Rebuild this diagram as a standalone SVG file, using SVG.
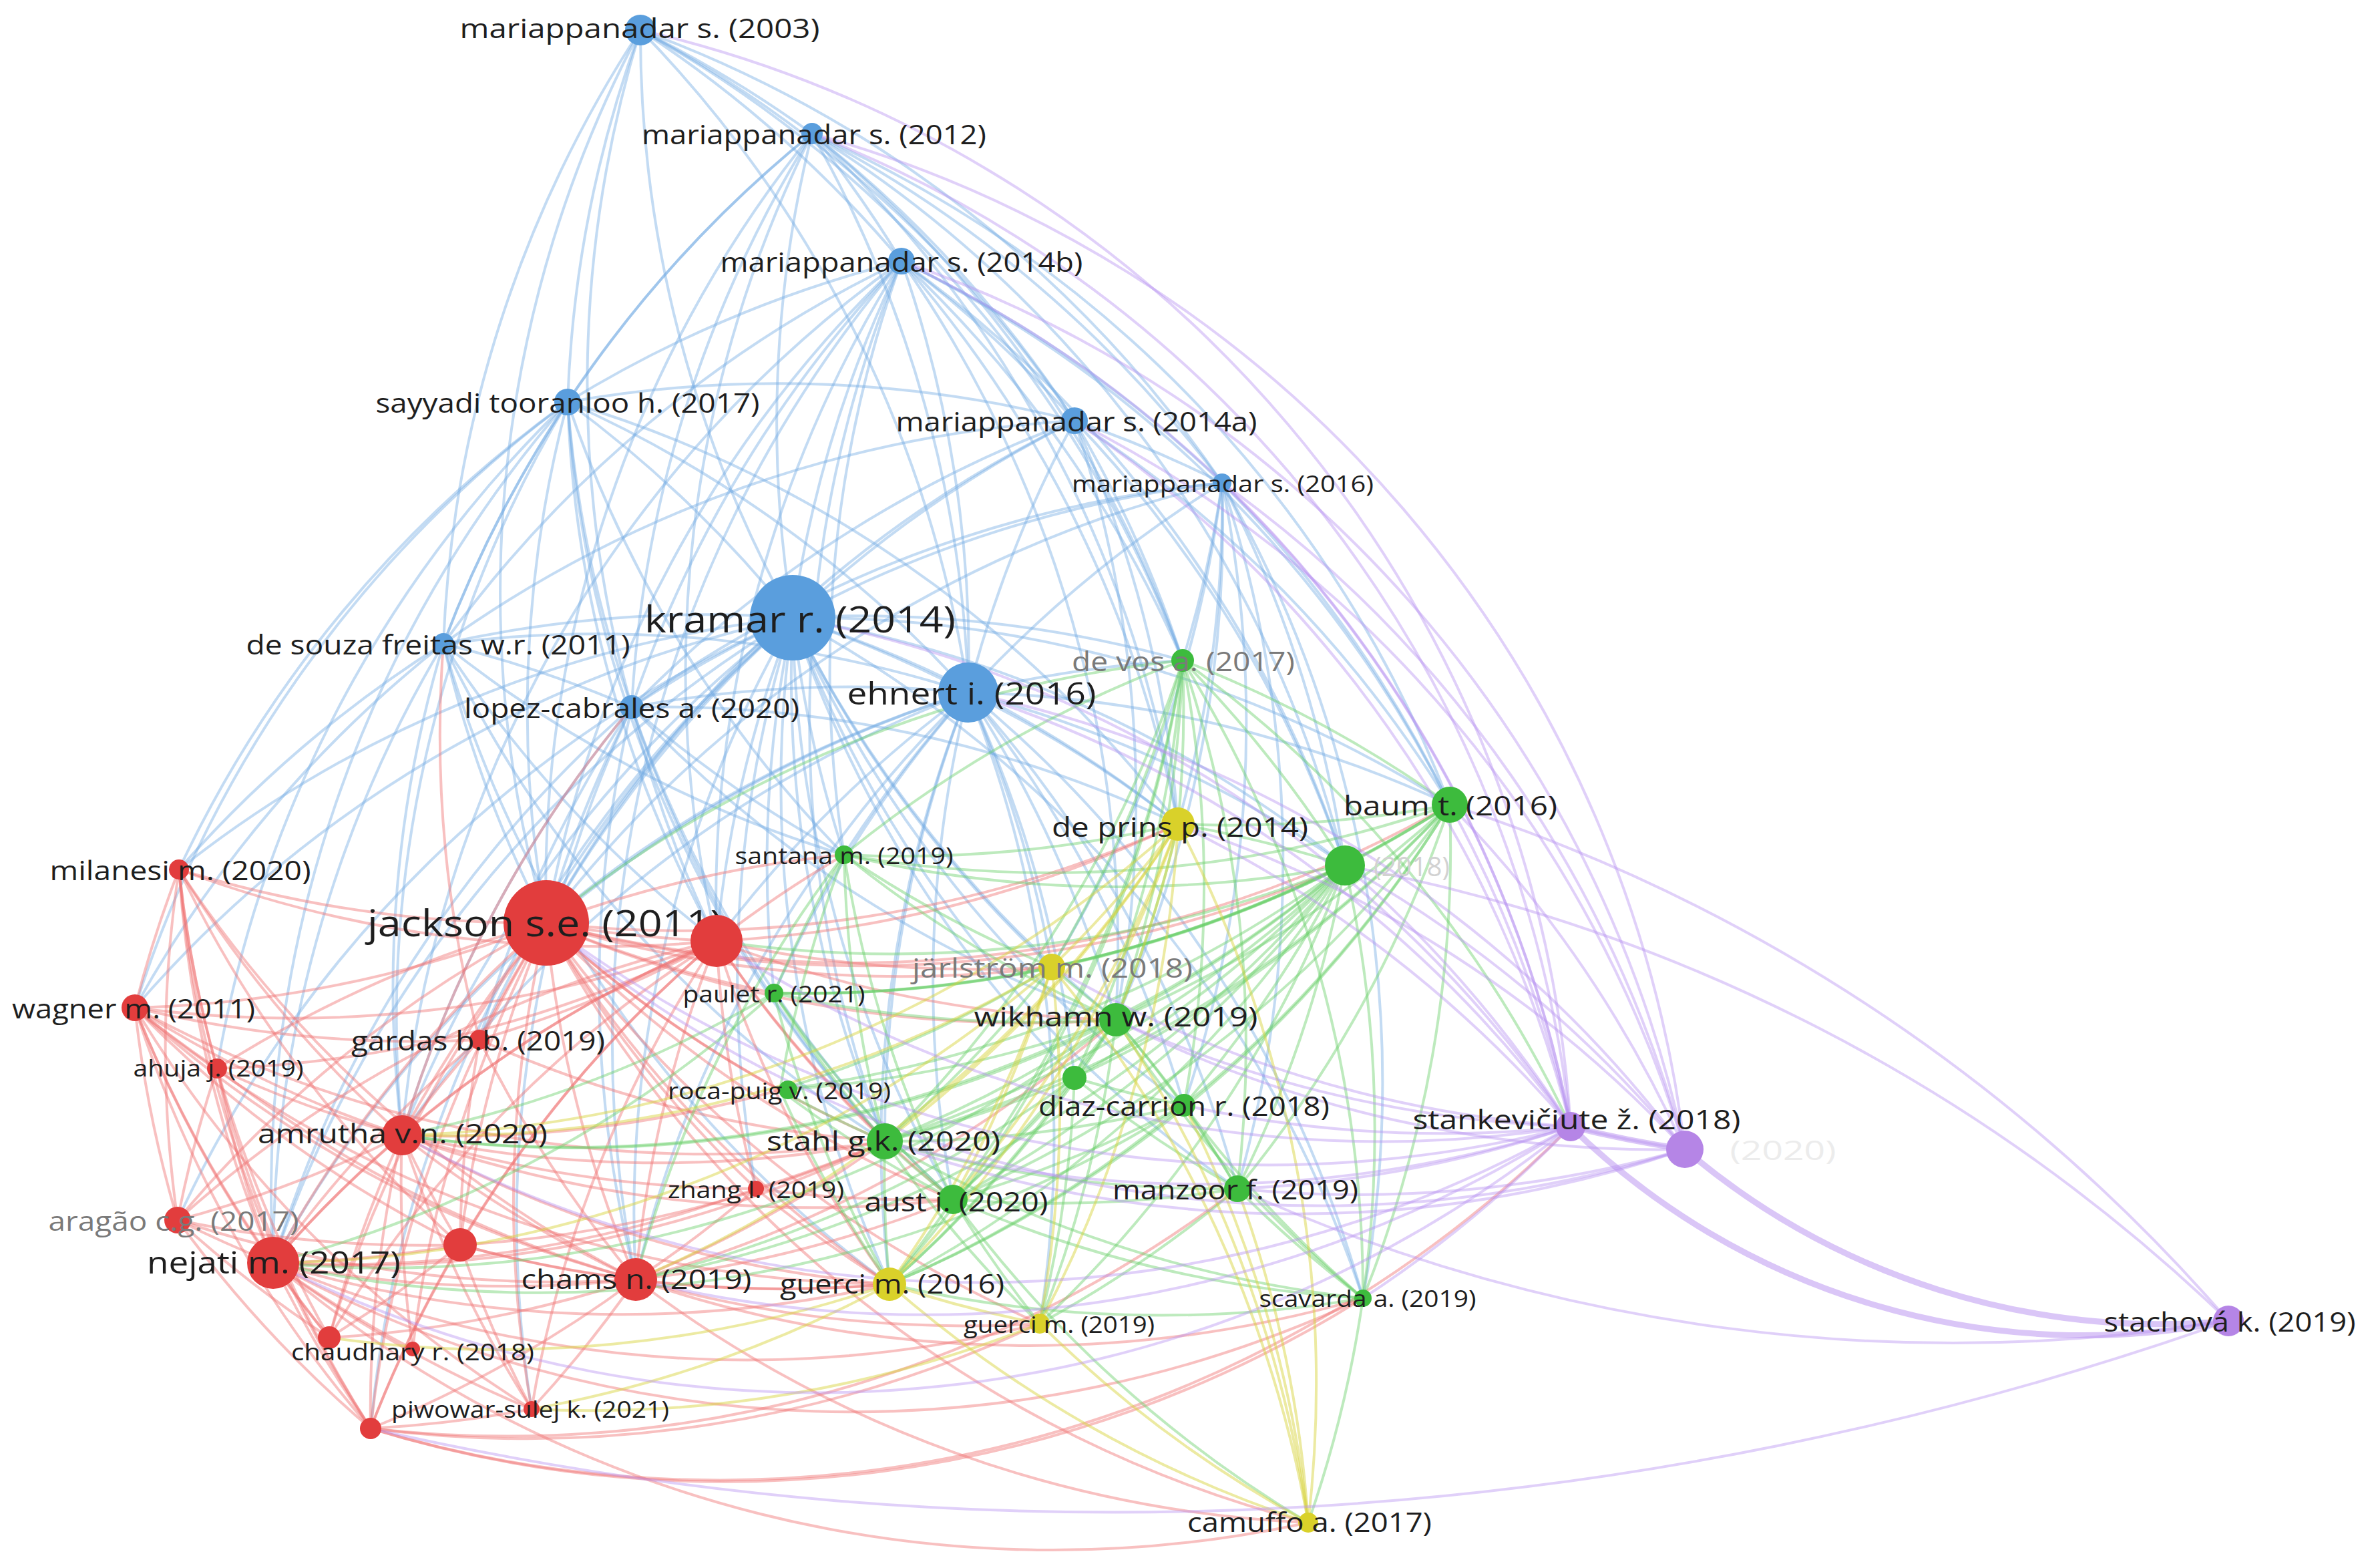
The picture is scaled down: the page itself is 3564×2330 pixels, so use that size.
<svg xmlns="http://www.w3.org/2000/svg" width="3564" height="2330" viewBox="0 0 3564 2330">
<style>
.c path{fill:none;stroke-linecap:round;stroke-width:4}
.cb{stroke:#6fa9e3;stroke-opacity:.42}
.cr{stroke:#ef6f6f;stroke-opacity:.44}
.cg{stroke:#68cf68;stroke-opacity:.44}
.cy{stroke:#d8d33c;stroke-opacity:.48}
.cp{stroke:#b58ef0;stroke-opacity:.42}
.cpt path{stroke-width:9;stroke-opacity:.5}
.nb circle{fill:#5a9edd}
.ng circle{fill:#3dbb3d}
.ny circle{fill:#d9d12a}
.nr circle{fill:#e23d3d}
.np circle{fill:#b585e6}
text{font-family:"Open Sans","Liberation Sans",sans-serif;text-anchor:middle;dominant-baseline:central;fill:#1e1e1e}
.f55{font-size:55px}.f46{font-size:46px}.f41{font-size:41px}.f35{font-size:35px}
.fa{fill:#7a7a7a}.fb{fill:#d2d2d2}.fc{fill:#ececec}
</style>
<rect width="3564" height="2330" fill="#ffffff"/>
<g id="connectors" class="c">
<g class="cb">
<path d="M959 45A1800 1800 0 0 1 1216 200"/><path d="M959 45A1800 1800 0 0 1 1350 391"/><path d="M959 45A1800 1800 0 0 0 850 602"/><path d="M959 45A1800 1800 0 0 1 1609 630"/><path d="M959 45A1800 1800 0 0 1 1830 723"/><path d="M959 45A1800 1800 0 0 0 1187 925"/><path d="M959 45A1800 1800 0 0 0 664 964"/><path d="M959 45A1800 1800 0 0 0 946 1059"/><path d="M959 45A1800 1800 0 0 1 1450 1037"/><path d="M959 45A1800 1800 0 0 1 1771 989"/><path d="M959 45A1800 1800 0 0 0 818 1382"/>
<path d="M1216 200A1800 1800 0 0 1 1350 391"/><path d="M1216 200A1800 1800 0 0 0 850 602"/><path d="M1216 200A1800 1800 0 0 1 1609 630"/><path d="M1216 200A1800 1800 0 0 1 1830 723"/><path d="M1216 200A1800 1800 0 0 0 1187 925"/><path d="M1216 200A1800 1800 0 0 0 664 964"/><path d="M1216 200A1800 1800 0 0 0 946 1059"/><path d="M1216 200A1800 1800 0 0 1 1450 1037"/><path d="M1216 200A1800 1800 0 0 1 1771 989"/><path d="M1216 200A1800 1800 0 0 1 2171 1205"/><path d="M1216 200A1800 1800 0 0 1 2014 1296"/><path d="M1216 200A1800 1800 0 0 1 1764 1234"/><path d="M1216 200A1800 1800 0 0 0 818 1382"/><path d="M1216 200A1800 1800 0 0 0 1073 1409"/>
<path d="M1350 391A1800 1800 0 0 0 850 602"/><path d="M1350 391A1800 1800 0 0 1 1609 630"/><path d="M1350 391A1800 1800 0 0 1 1830 723"/><path d="M1350 391A1800 1800 0 0 0 1187 925"/><path d="M1350 391A1800 1800 0 0 0 664 964"/><path d="M1350 391A1800 1800 0 0 0 946 1059"/><path d="M1350 391A1800 1800 0 0 1 1450 1037"/><path d="M1350 391A1800 1800 0 0 1 1771 989"/><path d="M1350 391A1800 1800 0 0 1 2171 1205"/><path d="M1350 391A1800 1800 0 0 1 2014 1296"/><path d="M1350 391A1800 1800 0 0 1 1764 1234"/><path d="M1350 391A1800 1800 0 0 0 818 1382"/><path d="M1350 391A1800 1800 0 0 0 1073 1409"/><path d="M1350 391A1800 1800 0 0 0 1264 1280"/><path d="M1350 391A1800 1800 0 0 1 1671 1527"/><path d="M1350 391A1800 1800 0 0 0 602 1700"/><path d="M1350 391A1800 1800 0 0 0 1325 1709"/><path d="M1350 391A1800 1800 0 0 0 952 1916"/>
<path d="M850 602A1800 1800 0 0 1 1609 630"/><path d="M850 602A1800 1800 0 0 1 1187 925"/><path d="M850 602A1800 1800 0 0 0 664 964"/><path d="M850 602A1800 1800 0 0 0 946 1059"/><path d="M850 602A1800 1800 0 0 1 1450 1037"/><path d="M850 602A1800 1800 0 0 0 818 1382"/><path d="M850 602A1800 1800 0 0 0 1073 1409"/><path d="M850 602A1800 1800 0 0 0 268 1302"/><path d="M850 602A1800 1800 0 0 0 202 1509"/><path d="M850 602A1800 1800 0 0 0 602 1700"/><path d="M850 602A1800 1800 0 0 0 409 1891"/><path d="M850 602A1800 1800 0 0 0 1264 1280"/><path d="M850 602A1800 1800 0 0 1 1764 1234"/><path d="M850 602A1800 1800 0 0 0 1325 1709"/><path d="M850 602A1800 1800 0 0 0 325 1600"/>
<path d="M1609 630A1800 1800 0 0 1 1830 723"/><path d="M1609 630A1800 1800 0 0 0 1187 925"/><path d="M1609 630A1800 1800 0 0 0 664 964"/><path d="M1609 630A1800 1800 0 0 0 946 1059"/><path d="M1609 630A1800 1800 0 0 0 1450 1037"/><path d="M1609 630A1800 1800 0 0 1 1771 989"/><path d="M1609 630A1800 1800 0 0 1 2171 1205"/><path d="M1609 630A1800 1800 0 0 1 2014 1296"/><path d="M1609 630A1800 1800 0 0 1 1764 1234"/><path d="M1609 630A1800 1800 0 0 0 818 1382"/><path d="M1609 630A1800 1800 0 0 1 1671 1527"/>
<path d="M1830 723A1800 1800 0 0 0 1187 925"/><path d="M1830 723A1800 1800 0 0 0 946 1059"/><path d="M1830 723A1800 1800 0 0 0 1450 1037"/><path d="M1830 723A1800 1800 0 0 1 1771 989"/><path d="M1830 723A1800 1800 0 0 1 2171 1205"/><path d="M1830 723A1800 1800 0 0 1 2014 1296"/><path d="M1830 723A1800 1800 0 0 1 1764 1234"/><path d="M1830 723A1800 1800 0 0 1 1671 1527"/><path d="M1830 723A1800 1800 0 0 1 1773 1655"/><path d="M1830 723A1800 1800 0 0 1 1853 1780"/><path d="M1830 723A1800 1800 0 0 0 818 1382"/><path d="M1830 723A1800 1800 0 0 1 1575 1448"/><path d="M1830 723A1800 1800 0 0 1 2041 1944"/>
<path d="M1187 925A1800 1800 0 0 0 664 964"/><path d="M1187 925A1800 1800 0 0 0 946 1059"/><path d="M1187 925A1800 1800 0 0 1 1450 1037"/><path d="M1187 925A1800 1800 0 0 1 1771 989"/><path d="M1187 925A1800 1800 0 0 1 2171 1205"/><path d="M1187 925A1800 1800 0 0 1 2014 1296"/><path d="M1187 925A1800 1800 0 0 1 1764 1234"/><path d="M1187 925A1800 1800 0 0 0 1575 1448"/><path d="M1187 925A1800 1800 0 0 0 1264 1280"/><path d="M1187 925A1800 1800 0 0 0 1159 1487"/><path d="M1187 925A1800 1800 0 0 0 1671 1527"/><path d="M1187 925A1800 1800 0 0 0 1609 1614"/><path d="M1187 925A1800 1800 0 0 0 1773 1655"/><path d="M1187 925A1800 1800 0 0 0 1325 1709"/><path d="M1187 925A1800 1800 0 0 0 1427 1796"/><path d="M1187 925A1800 1800 0 0 0 1853 1780"/><path d="M1187 925A1800 1800 0 0 1 2041 1944"/><path d="M1187 925A1800 1800 0 0 0 818 1382"/><path d="M1187 925A1800 1800 0 0 0 1073 1409"/><path d="M1187 925A1800 1800 0 0 0 268 1302"/><path d="M1187 925A1800 1800 0 0 0 202 1509"/><path d="M1187 925A1800 1800 0 0 0 718 1557"/><path d="M1187 925A1800 1800 0 0 0 602 1700"/><path d="M1187 925A1800 1800 0 0 0 409 1891"/><path d="M1187 925A1800 1800 0 0 0 952 1916"/><path d="M1187 925A1800 1800 0 0 0 1132 1780"/><path d="M1187 925A1800 1800 0 0 0 1332 1923"/><path d="M1187 925A1800 1800 0 0 0 555 2139"/><path d="M1187 925A1800 1800 0 0 0 266 1827"/>
<path d="M664 964A1800 1800 0 0 1 946 1059"/><path d="M664 964A1800 1800 0 0 1 1450 1037"/><path d="M664 964A1800 1800 0 0 0 818 1382"/><path d="M664 964A1800 1800 0 0 0 1073 1409"/><path d="M664 964A1800 1800 0 0 0 268 1302"/><path d="M664 964A1800 1800 0 0 0 202 1509"/><path d="M664 964A1800 1800 0 0 0 602 1700"/><path d="M664 964A1800 1800 0 0 0 409 1891"/><path d="M664 964A1800 1800 0 0 0 1325 1709"/><path d="M664 964A1800 1800 0 0 0 1332 1923"/><path d="M664 964A1800 1800 0 0 0 1264 1280"/>
<path d="M946 1059A1800 1800 0 0 1 1450 1037"/><path d="M946 1059A1800 1800 0 0 0 818 1382"/><path d="M946 1059A1800 1800 0 0 0 1073 1409"/><path d="M946 1059A1800 1800 0 0 0 718 1557"/><path d="M946 1059A1800 1800 0 0 0 602 1700"/><path d="M946 1059A1800 1800 0 0 0 409 1891"/><path d="M946 1059A1800 1800 0 0 0 952 1916"/><path d="M946 1059A1800 1800 0 0 0 1264 1280"/><path d="M946 1059A1800 1800 0 0 0 1325 1709"/><path d="M946 1059A1800 1800 0 0 0 1427 1796"/><path d="M946 1059A1800 1800 0 0 1 1764 1234"/><path d="M946 1059A1800 1800 0 0 0 796 2110"/><path d="M946 1059A1800 1800 0 0 0 1671 1527"/>
<path d="M1450 1037A1800 1800 0 0 1 1771 989"/><path d="M1450 1037A1800 1800 0 0 1 2171 1205"/><path d="M1450 1037A1800 1800 0 0 1 2014 1296"/><path d="M1450 1037A1800 1800 0 0 1 1764 1234"/><path d="M1450 1037A1800 1800 0 0 1 1575 1448"/><path d="M1450 1037A1800 1800 0 0 0 1264 1280"/><path d="M1450 1037A1800 1800 0 0 0 1159 1487"/><path d="M1450 1037A1800 1800 0 0 1 1671 1527"/><path d="M1450 1037A1800 1800 0 0 1 1609 1614"/><path d="M1450 1037A1800 1800 0 0 1 1773 1655"/><path d="M1450 1037A1800 1800 0 0 0 1325 1709"/><path d="M1450 1037A1800 1800 0 0 0 1427 1796"/><path d="M1450 1037A1800 1800 0 0 1 1853 1780"/><path d="M1450 1037A1800 1800 0 0 0 1332 1923"/><path d="M1450 1037A1800 1800 0 0 1 1557 1982"/><path d="M1450 1037A1800 1800 0 0 0 818 1382"/><path d="M1450 1037A1800 1800 0 0 0 1073 1409"/><path d="M1450 1037A1800 1800 0 0 0 602 1700"/><path d="M1450 1037A1800 1800 0 0 0 409 1891"/><path d="M1450 1037A1800 1800 0 0 0 952 1916"/><path d="M1450 1037A1800 1800 0 0 1 2041 1944"/>
</g>
<g class="cr">
<path d="M818 1382A1800 1800 0 0 0 1073 1409"/><path d="M818 1382A1800 1800 0 0 1 268 1302"/><path d="M818 1382A1800 1800 0 0 1 202 1509"/><path d="M818 1382A1800 1800 0 0 0 325 1600"/><path d="M818 1382A1800 1800 0 0 0 718 1557"/><path d="M818 1382A1800 1800 0 0 0 602 1700"/><path d="M818 1382A1800 1800 0 0 0 266 1827"/><path d="M818 1382A1800 1800 0 0 0 409 1891"/><path d="M818 1382A1800 1800 0 0 0 689 1864"/><path d="M818 1382A1800 1800 0 0 0 952 1916"/><path d="M818 1382A1800 1800 0 0 0 1132 1780"/><path d="M818 1382A1800 1800 0 0 0 493 2003"/><path d="M818 1382A1800 1800 0 0 0 618 2020"/><path d="M818 1382A1800 1800 0 0 0 796 2110"/><path d="M818 1382A1800 1800 0 0 0 555 2139"/><path d="M818 1382A1800 1800 0 0 1 1264 1280"/><path d="M818 1382A1800 1800 0 0 0 1159 1487"/><path d="M818 1382A1800 1800 0 0 0 1671 1527"/><path d="M818 1382A1800 1800 0 0 0 1325 1709"/><path d="M818 1382A1800 1800 0 0 0 1427 1796"/><path d="M818 1382A1800 1800 0 0 0 1168 1632"/><path d="M818 1382A1800 1800 0 0 0 1764 1234"/><path d="M818 1382A1800 1800 0 0 0 1575 1448"/><path d="M818 1382A1800 1800 0 0 0 1332 1923"/><path d="M818 1382A1800 1800 0 0 0 1557 1982"/><path d="M818 1382A1800 1800 0 0 0 2171 1205"/><path d="M818 1382A1800 1800 0 0 0 2014 1296"/><path d="M818 1382A1800 1800 0 0 0 1959 2280"/>
<path d="M1073 1409A1800 1800 0 0 1 268 1302"/><path d="M1073 1409A1800 1800 0 0 1 202 1509"/><path d="M1073 1409A1800 1800 0 0 1 325 1600"/><path d="M1073 1409A1800 1800 0 0 1 718 1557"/><path d="M1073 1409A1800 1800 0 0 0 602 1700"/><path d="M1073 1409A1800 1800 0 0 0 266 1827"/><path d="M1073 1409A1800 1800 0 0 0 409 1891"/><path d="M1073 1409A1800 1800 0 0 0 689 1864"/><path d="M1073 1409A1800 1800 0 0 0 952 1916"/><path d="M1073 1409A1800 1800 0 0 0 1132 1780"/><path d="M1073 1409A1800 1800 0 0 0 493 2003"/><path d="M1073 1409A1800 1800 0 0 0 796 2110"/><path d="M1073 1409A1800 1800 0 0 0 555 2139"/><path d="M1073 1409A1800 1800 0 0 0 1671 1527"/><path d="M1073 1409A1800 1800 0 0 0 1325 1709"/><path d="M1073 1409A1800 1800 0 0 0 1427 1796"/><path d="M1073 1409A1800 1800 0 0 0 1332 1923"/><path d="M1073 1409A1800 1800 0 0 0 1764 1234"/><path d="M1073 1409A1800 1800 0 0 1 1264 1280"/><path d="M1073 1409A1800 1800 0 0 0 1575 1448"/>
<path d="M268 1302A1800 1800 0 0 0 202 1509"/><path d="M268 1302A1800 1800 0 0 0 325 1600"/><path d="M268 1302A1800 1800 0 0 0 602 1700"/><path d="M268 1302A1800 1800 0 0 0 266 1827"/><path d="M268 1302A1800 1800 0 0 0 409 1891"/><path d="M268 1302A1800 1800 0 0 0 689 1864"/><path d="M268 1302A1800 1800 0 0 0 952 1916"/><path d="M268 1302A1800 1800 0 0 0 555 2139"/><path d="M268 1302A1800 1800 0 0 0 493 2003"/>
<path d="M202 1509A1800 1800 0 0 0 325 1600"/><path d="M202 1509A1800 1800 0 0 0 718 1557"/><path d="M202 1509A1800 1800 0 0 0 602 1700"/><path d="M202 1509A1800 1800 0 0 0 266 1827"/><path d="M202 1509A1800 1800 0 0 0 409 1891"/><path d="M202 1509A1800 1800 0 0 0 689 1864"/><path d="M202 1509A1800 1800 0 0 0 952 1916"/><path d="M202 1509A1800 1800 0 0 0 493 2003"/><path d="M202 1509A1800 1800 0 0 0 796 2110"/><path d="M202 1509A1800 1800 0 0 0 555 2139"/><path d="M202 1509A1800 1800 0 0 0 1325 1709"/><path d="M202 1509A1800 1800 0 0 0 1332 1923"/>
<path d="M325 1600A1800 1800 0 0 0 602 1700"/><path d="M325 1600A1800 1800 0 0 0 266 1827"/><path d="M325 1600A1800 1800 0 0 0 409 1891"/><path d="M325 1600A1800 1800 0 0 0 952 1916"/><path d="M325 1600A1800 1800 0 0 0 555 2139"/>
<path d="M718 1557A1800 1800 0 0 0 602 1700"/><path d="M718 1557A1800 1800 0 0 0 409 1891"/><path d="M718 1557A1800 1800 0 0 0 952 1916"/><path d="M718 1557A1800 1800 0 0 0 689 1864"/><path d="M718 1557A1800 1800 0 0 0 1325 1709"/><path d="M718 1557A1800 1800 0 0 1 664 964"/>
<path d="M602 1700A1800 1800 0 0 1 266 1827"/><path d="M602 1700A1800 1800 0 0 0 409 1891"/><path d="M602 1700A1800 1800 0 0 0 689 1864"/><path d="M602 1700A1800 1800 0 0 0 952 1916"/><path d="M602 1700A1800 1800 0 0 0 1132 1780"/><path d="M602 1700A1800 1800 0 0 0 493 2003"/><path d="M602 1700A1800 1800 0 0 0 618 2020"/><path d="M602 1700A1800 1800 0 0 0 796 2110"/><path d="M602 1700A1800 1800 0 0 0 555 2139"/><path d="M602 1700A1800 1800 0 0 0 1325 1709"/><path d="M602 1700A1800 1800 0 0 0 1427 1796"/><path d="M602 1700A1800 1800 0 0 0 1332 1923"/><path d="M602 1700A1800 1800 0 0 0 1168 1632"/><path d="M602 1700A1800 1800 0 0 1 946 1059"/>
<path d="M266 1827A1800 1800 0 0 0 409 1891"/><path d="M266 1827A1800 1800 0 0 0 689 1864"/><path d="M266 1827A1800 1800 0 0 0 952 1916"/><path d="M266 1827A1800 1800 0 0 0 493 2003"/><path d="M266 1827A1800 1800 0 0 0 555 2139"/>
<path d="M409 1891A1800 1800 0 0 0 689 1864"/><path d="M409 1891A1800 1800 0 0 0 952 1916"/><path d="M409 1891A1800 1800 0 0 0 1132 1780"/><path d="M409 1891A1800 1800 0 0 0 493 2003"/><path d="M409 1891A1800 1800 0 0 0 618 2020"/><path d="M409 1891A1800 1800 0 0 0 796 2110"/><path d="M409 1891A1800 1800 0 0 0 555 2139"/><path d="M409 1891A1800 1800 0 0 0 1325 1709"/><path d="M409 1891A1800 1800 0 0 0 1332 1923"/><path d="M409 1891A1800 1800 0 0 0 1557 1982"/><path d="M409 1891A1800 1800 0 0 0 1959 2280"/><path d="M409 1891A1800 1800 0 0 0 2041 1944"/>
<path d="M689 1864A1800 1800 0 0 0 952 1916"/><path d="M689 1864A1800 1800 0 0 1 493 2003"/><path d="M689 1864A1800 1800 0 0 0 796 2110"/><path d="M689 1864A1800 1800 0 0 0 555 2139"/><path d="M689 1864A1800 1800 0 0 0 1325 1709"/><path d="M689 1864A1800 1800 0 0 0 1332 1923"/>
<path d="M952 1916A1800 1800 0 0 0 1132 1780"/><path d="M952 1916A1800 1800 0 0 1 493 2003"/><path d="M952 1916A1800 1800 0 0 1 796 2110"/><path d="M952 1916A1800 1800 0 0 1 555 2139"/><path d="M952 1916A1800 1800 0 0 0 1325 1709"/><path d="M952 1916A1800 1800 0 0 0 1427 1796"/><path d="M952 1916A1800 1800 0 0 0 1332 1923"/><path d="M952 1916A1800 1800 0 0 0 1557 1982"/><path d="M952 1916A1800 1800 0 0 0 1671 1527"/><path d="M952 1916A1800 1800 0 0 0 1959 2280"/><path d="M952 1916A1800 1800 0 0 0 2041 1944"/>
<path d="M1132 1780A1800 1800 0 0 0 1325 1709"/><path d="M1132 1780A1800 1800 0 0 0 1332 1923"/><path d="M1132 1780A1800 1800 0 0 0 1427 1796"/>
<path d="M555 2139A1800 1800 0 0 0 796 2110"/><path d="M555 2139A1800 1800 0 0 0 2041 1944"/><path d="M555 2139A1800 1800 0 0 0 1557 1982"/><path d="M555 2139A1800 1800 0 0 0 2352 1687"/><path d="M555 2139A1800 1800 0 0 0 1853 1780"/>
</g>
<g class="cg">
<path d="M1771 989A1800 1800 0 0 1 2171 1205"/><path d="M1771 989A1800 1800 0 0 1 2014 1296"/><path d="M1771 989A1800 1800 0 0 1 1671 1527"/><path d="M1771 989A1800 1800 0 0 1 1609 1614"/><path d="M1771 989A1800 1800 0 0 1 1773 1655"/><path d="M1771 989A1800 1800 0 0 1 1325 1709"/><path d="M1771 989A1800 1800 0 0 1 1427 1796"/><path d="M1771 989A1800 1800 0 0 1 1853 1780"/><path d="M1771 989A1800 1800 0 0 1 2041 1944"/><path d="M1771 989A1800 1800 0 0 1 1764 1234"/><path d="M1771 989A1800 1800 0 0 1 1575 1448"/><path d="M1771 989A1800 1800 0 0 0 1264 1280"/><path d="M1771 989A1800 1800 0 0 0 818 1382"/><path d="M1771 989A1800 1800 0 0 1 2352 1687"/><path d="M1771 989A1800 1800 0 0 1 1332 1923"/>
<path d="M2171 1205A1800 1800 0 0 1 2014 1296"/><path d="M2171 1205A1800 1800 0 0 1 1671 1527"/><path d="M2171 1205A1800 1800 0 0 1 1609 1614"/><path d="M2171 1205A1800 1800 0 0 1 1773 1655"/><path d="M2171 1205A1800 1800 0 0 1 1325 1709"/><path d="M2171 1205A1800 1800 0 0 1 1427 1796"/><path d="M2171 1205A1800 1800 0 0 1 1853 1780"/><path d="M2171 1205A1800 1800 0 0 1 2041 1944"/><path d="M2171 1205A1800 1800 0 0 1 1764 1234"/><path d="M2171 1205A1800 1800 0 0 1 1575 1448"/><path d="M2171 1205A1800 1800 0 0 1 1264 1280"/><path d="M2171 1205A1800 1800 0 0 1 1159 1487"/><path d="M2171 1205A1800 1800 0 0 1 1332 1923"/>
<path d="M2014 1296A1800 1800 0 0 1 1671 1527"/><path d="M2014 1296A1800 1800 0 0 1 1609 1614"/><path d="M2014 1296A1800 1800 0 0 1 1773 1655"/><path d="M2014 1296A1800 1800 0 0 1 1325 1709"/><path d="M2014 1296A1800 1800 0 0 1 1427 1796"/><path d="M2014 1296A1800 1800 0 0 1 1853 1780"/><path d="M2014 1296A1800 1800 0 0 1 2041 1944"/><path d="M2014 1296A1800 1800 0 0 0 1764 1234"/><path d="M2014 1296A1800 1800 0 0 1 1575 1448"/><path d="M2014 1296A1800 1800 0 0 1 1332 1923"/><path d="M2014 1296A1800 1800 0 0 1 1557 1982"/><path d="M2014 1296A1800 1800 0 0 1 1264 1280"/><path d="M2014 1296A1800 1800 0 0 1 1159 1487"/><path d="M2014 1296A1800 1800 0 0 1 1168 1632"/><path d="M2014 1296A1800 1800 0 0 1 1073 1409"/><path d="M2014 1296A1800 1800 0 0 1 952 1916"/><path d="M2014 1296A1800 1800 0 0 1 602 1700"/>
<path d="M1264 1280A1800 1800 0 0 0 1159 1487"/><path d="M1264 1280A1800 1800 0 0 0 1671 1527"/><path d="M1264 1280A1800 1800 0 0 0 1325 1709"/><path d="M1264 1280A1800 1800 0 0 0 1427 1796"/><path d="M1264 1280A1800 1800 0 0 0 1764 1234"/><path d="M1264 1280A1800 1800 0 0 0 1575 1448"/><path d="M1264 1280A1800 1800 0 0 0 1168 1632"/><path d="M1264 1280A1800 1800 0 0 0 952 1916"/>
<path d="M1159 1487A1800 1800 0 0 0 1671 1527"/><path d="M1159 1487A1800 1800 0 0 0 1325 1709"/><path d="M1159 1487A1800 1800 0 0 0 1427 1796"/><path d="M1159 1487A1800 1800 0 0 0 1575 1448"/><path d="M1159 1487A1800 1800 0 0 0 1332 1923"/><path d="M1159 1487A1800 1800 0 0 1 602 1700"/><path d="M1159 1487A1800 1800 0 0 1 409 1891"/>
<path d="M1168 1632A1800 1800 0 0 0 1332 1923"/><path d="M1168 1632A1800 1800 0 0 0 1427 1796"/><path d="M1168 1632A1800 1800 0 0 0 1575 1448"/>
<path d="M1671 1527A1800 1800 0 0 1 1609 1614"/><path d="M1671 1527A1800 1800 0 0 1 1773 1655"/><path d="M1671 1527A1800 1800 0 0 1 1325 1709"/><path d="M1671 1527A1800 1800 0 0 1 1427 1796"/><path d="M1671 1527A1800 1800 0 0 1 1853 1780"/><path d="M1671 1527A1800 1800 0 0 0 2041 1944"/><path d="M1671 1527A1800 1800 0 0 0 1764 1234"/><path d="M1671 1527A1800 1800 0 0 1 1575 1448"/><path d="M1671 1527A1800 1800 0 0 1 1332 1923"/><path d="M1671 1527A1800 1800 0 0 1 1557 1982"/><path d="M1671 1527A1800 1800 0 0 1 1168 1632"/><path d="M1671 1527A1800 1800 0 0 1 602 1700"/><path d="M1671 1527A1800 1800 0 0 1 409 1891"/>
<path d="M1609 1614A1800 1800 0 0 0 1773 1655"/><path d="M1609 1614A1800 1800 0 0 1 1325 1709"/><path d="M1609 1614A1800 1800 0 0 1 1427 1796"/><path d="M1609 1614A1800 1800 0 0 0 1853 1780"/><path d="M1609 1614A1800 1800 0 0 1 1332 1923"/><path d="M1609 1614A1800 1800 0 0 1 1557 1982"/><path d="M1609 1614A1800 1800 0 0 1 952 1916"/>
<path d="M1773 1655A1800 1800 0 0 1 1325 1709"/><path d="M1773 1655A1800 1800 0 0 1 1427 1796"/><path d="M1773 1655A1800 1800 0 0 1 1853 1780"/><path d="M1773 1655A1800 1800 0 0 0 2041 1944"/><path d="M1773 1655A1800 1800 0 0 1 1332 1923"/><path d="M1773 1655A1800 1800 0 0 1 409 1891"/>
<path d="M1325 1709A1800 1800 0 0 0 1427 1796"/><path d="M1325 1709A1800 1800 0 0 0 1853 1780"/><path d="M1325 1709A1800 1800 0 0 0 2041 1944"/><path d="M1325 1709A1800 1800 0 0 0 1332 1923"/><path d="M1325 1709A1800 1800 0 0 0 1557 1982"/><path d="M1325 1709A1800 1800 0 0 1 1168 1632"/><path d="M1325 1709A1800 1800 0 0 0 1575 1448"/>
<path d="M1427 1796A1800 1800 0 0 0 1853 1780"/><path d="M1427 1796A1800 1800 0 0 0 2041 1944"/><path d="M1427 1796A1800 1800 0 0 1 1332 1923"/><path d="M1427 1796A1800 1800 0 0 0 1557 1982"/><path d="M1427 1796A1800 1800 0 0 0 1959 2280"/>
<path d="M1853 1780A1800 1800 0 0 0 2041 1944"/><path d="M1853 1780A1800 1800 0 0 1 1557 1982"/>
<path d="M2041 1944A1800 1800 0 0 1 1959 2280"/><path d="M2041 1944A1800 1800 0 0 1 1332 1923"/>
</g>
<g class="cy">
<path d="M1764 1234A1800 1800 0 0 1 1575 1448"/><path d="M1764 1234A1800 1800 0 0 1 1332 1923"/><path d="M1764 1234A1800 1800 0 0 1 1557 1982"/><path d="M1764 1234A1800 1800 0 0 1 1671 1527"/><path d="M1764 1234A1800 1800 0 0 1 1325 1709"/><path d="M1764 1234A1800 1800 0 0 1 1427 1796"/><path d="M1764 1234A1800 1800 0 0 1 952 1916"/><path d="M1764 1234A1800 1800 0 0 1 1959 2280"/><path d="M1764 1234A1800 1800 0 0 1 602 1700"/>
<path d="M1575 1448A1800 1800 0 0 1 1332 1923"/><path d="M1575 1448A1800 1800 0 0 1 1557 1982"/><path d="M1575 1448A1800 1800 0 0 1 1959 2280"/><path d="M1575 1448A1800 1800 0 0 1 1427 1796"/><path d="M1575 1448A1800 1800 0 0 1 602 1700"/><path d="M1575 1448A1800 1800 0 0 1 409 1891"/>
<path d="M1332 1923A1800 1800 0 0 0 1557 1982"/><path d="M1332 1923A1800 1800 0 0 0 1959 2280"/><path d="M1332 1923A1800 1800 0 0 1 493 2003"/><path d="M1332 1923A1800 1800 0 0 1 796 2110"/>
<path d="M1557 1982A1800 1800 0 0 0 1959 2280"/><path d="M1557 1982A1800 1800 0 0 1 796 2110"/>
<path d="M1959 2280A1800 1800 0 0 0 1853 1780"/><path d="M1959 2280A1800 1800 0 0 0 1773 1655"/><path d="M1959 2280A1800 1800 0 0 0 1671 1527"/>
</g>
<g class="cp">
<path d="M2352 1687A1800 1800 0 0 0 2523 1721"/><path d="M2352 1687A1800 1800 0 0 0 959 45"/><path d="M2352 1687A1800 1800 0 0 0 1216 200"/><path d="M2352 1687A1800 1800 0 0 0 1350 391"/><path d="M2352 1687A1800 1800 0 0 0 1609 630"/><path d="M2352 1687A1800 1800 0 0 0 1830 723"/><path d="M2352 1687A1800 1800 0 0 0 1187 925"/><path d="M2352 1687A1800 1800 0 0 0 1450 1037"/><path d="M2352 1687A1800 1800 0 0 0 2171 1205"/><path d="M2352 1687A1800 1800 0 0 0 2014 1296"/><path d="M2352 1687A1800 1800 0 0 1 1671 1527"/><path d="M2352 1687A1800 1800 0 0 1 1773 1655"/><path d="M2352 1687A1800 1800 0 0 1 1853 1780"/><path d="M2352 1687A1800 1800 0 0 1 2041 1944"/><path d="M2352 1687A1800 1800 0 0 0 1764 1234"/><path d="M2352 1687A1800 1800 0 0 1 1575 1448"/><path d="M2352 1687A1800 1800 0 0 1 818 1382"/><path d="M2352 1687A1800 1800 0 0 1 1073 1409"/><path d="M2352 1687A1800 1800 0 0 1 602 1700"/><path d="M2352 1687A1800 1800 0 0 1 409 1891"/><path d="M2352 1687A1800 1800 0 0 1 952 1916"/><path d="M2352 1687A1800 1800 0 0 1 1325 1709"/>
<path d="M2523 1721A1800 1800 0 0 0 1350 391"/><path d="M2523 1721A1800 1800 0 0 0 1609 630"/><path d="M2523 1721A1800 1800 0 0 0 1830 723"/><path d="M2523 1721A1800 1800 0 0 0 1216 200"/><path d="M2523 1721A1800 1800 0 0 0 2171 1205"/><path d="M2523 1721A1800 1800 0 0 0 2014 1296"/><path d="M2523 1721A1800 1800 0 0 1 1671 1527"/><path d="M2523 1721A1800 1800 0 0 1 1853 1780"/><path d="M2523 1721A1800 1800 0 0 0 1764 1234"/><path d="M2523 1721A1800 1800 0 0 1 818 1382"/><path d="M2523 1721A1800 1800 0 0 1 1325 1709"/><path d="M2523 1721A1800 1800 0 0 0 1450 1037"/>
<path d="M3337 1978A2600 2600 0 0 0 2014 1296"/><path d="M3337 1978A2600 2600 0 0 0 2171 1205"/><path d="M3337 1978A2600 2600 0 0 1 1853 1780"/><path d="M3337 1978A5000 5000 0 0 1 555 2139"/>
<g class="cpt"><path d="M2352 1687A1100 1100 0 0 0 3337 1978"/><path d="M2523 1721A1100 1100 0 0 0 3337 1978"/><path d="M2352 1687A1800 1800 0 0 0 2523 1721"/></g>
</g>
</g>
<g id="nodes">
<g id="n-kramar" class="nb"><circle cx="1187" cy="925" r="64"/><text x="1198" y="925" class="f55" textLength="466" lengthAdjust="spacingAndGlyphs">kramar r. (2014)</text></g>
<g id="n-jackson" class="nr"><circle cx="818" cy="1382" r="64"/><text x="816" y="1380" class="f55" textLength="532" lengthAdjust="spacingAndGlyphs">jackson s.e. (2011)</text></g>
<g id="n-red-1073" class="nr"><circle cx="1073" cy="1409" r="39"/></g>
<g id="n-ehnert" class="nb"><circle cx="1450" cy="1037" r="45"/><text x="1455" y="1037" class="f46" textLength="373" lengthAdjust="spacingAndGlyphs">ehnert i. (2016)</text></g>
<g id="n-nejati" class="nr"><circle cx="409" cy="1891" r="39"/><text x="410" y="1889" class="f46" textLength="380" lengthAdjust="spacingAndGlyphs">nejati m. (2017)</text></g>
<g id="n-m2003" class="nb"><circle cx="959" cy="45" r="23"/><text x="958" y="41" class="f41" textLength="539" lengthAdjust="spacingAndGlyphs">mariappanadar s. (2003)</text></g>
<g id="n-m2012" class="nb"><circle cx="1216" cy="200" r="16"/><text x="1219" y="200" class="f41" textLength="516" lengthAdjust="spacingAndGlyphs">mariappanadar s. (2012)</text></g>
<g id="n-m2014b" class="nb"><circle cx="1350" cy="391" r="20"/><text x="1350" y="391" class="f41" textLength="543" lengthAdjust="spacingAndGlyphs">mariappanadar s. (2014b)</text></g>
<g id="n-sayyadi" class="nb"><circle cx="850" cy="602" r="20"/><text x="850" y="602" class="f41" textLength="575" lengthAdjust="spacingAndGlyphs">sayyadi tooranloo h. (2017)</text></g>
<g id="n-m2014a" class="nb"><circle cx="1609" cy="630" r="20"/><text x="1612" y="630" class="f41" textLength="541" lengthAdjust="spacingAndGlyphs">mariappanadar s. (2014a)</text></g>
<g id="n-m2016" class="nb"><circle cx="1830" cy="723" r="14"/><text x="1831" y="723" class="f35" textLength="452" lengthAdjust="spacingAndGlyphs">mariappanadar s. (2016)</text></g>
<g id="n-desouza" class="nb"><circle cx="664" cy="964" r="16"/><text x="656" y="964" class="f41" textLength="575" lengthAdjust="spacingAndGlyphs">de souza freitas w.r. (2011)</text></g>
<g id="n-lopez" class="nb"><circle cx="946" cy="1059" r="18"/><text x="946" y="1059" class="f41" textLength="502" lengthAdjust="spacingAndGlyphs">lopez-cabrales a. (2020)</text></g>
<g id="n-devos" class="ng"><circle cx="1771" cy="989" r="17"/><text x="1772" y="989" class="f41 fa" textLength="334" lengthAdjust="spacingAndGlyphs">de vos a. (2017)</text></g>
<g id="n-baum" class="ng"><circle cx="2171" cy="1205" r="27"/><text x="2172" y="1205" class="f41" textLength="320" lengthAdjust="spacingAndGlyphs">baum t. (2016)</text></g>
<g id="n-g2018" class="ng"><circle cx="2014" cy="1296" r="30"/><text x="2114" y="1296" class="f41 fb" textLength="114" lengthAdjust="spacingAndGlyphs">(2018)</text></g>
<g id="n-santana" class="ng"><circle cx="1264" cy="1280" r="14"/><text x="1264" y="1280" class="f35" textLength="327" lengthAdjust="spacingAndGlyphs">santana m. (2019)</text></g>
<g id="n-paulet" class="ng"><circle cx="1159" cy="1487" r="14"/><text x="1159" y="1487" class="f35" textLength="273" lengthAdjust="spacingAndGlyphs">paulet r. (2021)</text></g>
<g id="n-wikhamn" class="ng"><circle cx="1671" cy="1527" r="25"/><text x="1671" y="1521" class="f41" textLength="425" lengthAdjust="spacingAndGlyphs">wikhamn w. (2019)</text></g>
<g id="n-green-1609" class="ng"><circle cx="1609" cy="1614" r="18"/></g>
<g id="n-rocapuig" class="ng"><circle cx="1180" cy="1632" r="14"/><text x="1167" y="1632" class="f35" textLength="334" lengthAdjust="spacingAndGlyphs">roca-puig v. (2019)</text></g>
<g id="n-diaz" class="ng"><circle cx="1773" cy="1655" r="17"/><text x="1773" y="1655" class="f41" textLength="436" lengthAdjust="spacingAndGlyphs">diaz-carrion r. (2018)</text></g>
<g id="n-stahl" class="ng"><circle cx="1325" cy="1709" r="27"/><text x="1323" y="1707" class="f41" textLength="350" lengthAdjust="spacingAndGlyphs">stahl g.k. (2020)</text></g>
<g id="n-aust" class="ng"><circle cx="1427" cy="1796" r="22"/><text x="1432" y="1798" class="f41" textLength="275" lengthAdjust="spacingAndGlyphs">aust i. (2020)</text></g>
<g id="n-manzoor" class="ng"><circle cx="1853" cy="1780" r="20"/><text x="1850" y="1780" class="f41" textLength="368" lengthAdjust="spacingAndGlyphs">manzoor f. (2019)</text></g>
<g id="n-scavarda" class="ng"><circle cx="2041" cy="1944" r="13"/><text x="2048" y="1943" class="f35" textLength="325" lengthAdjust="spacingAndGlyphs">scavarda a. (2019)</text></g>
<g id="n-stank" class="np"><circle cx="2352" cy="1687" r="22"/><text x="2361" y="1675" class="f41" textLength="491" lengthAdjust="spacingAndGlyphs">stankevičiute ž. (2018)</text></g>
<g id="n-p2020" class="np"><circle cx="2523" cy="1721" r="28"/><text x="2670" y="1721" class="f41 fc" textLength="159" lengthAdjust="spacingAndGlyphs">(2020)</text></g>
<g id="n-stachova" class="np"><circle cx="3337" cy="1978" r="23"/><text x="3339" y="1978" class="f41" textLength="377" lengthAdjust="spacingAndGlyphs">stachová k. (2019)</text></g>
<g id="n-deprins" class="ny"><circle cx="1764" cy="1234" r="25"/><text x="1767" y="1237" class="f41" textLength="384" lengthAdjust="spacingAndGlyphs">de prins p. (2014)</text></g>
<g id="n-jarl" class="ny"><circle cx="1575" cy="1448" r="20"/><text x="1576" y="1448" class="f41 fa" textLength="420" lengthAdjust="spacingAndGlyphs">järlström m. (2018)</text></g>
<g id="n-guerci16" class="ny"><circle cx="1332" cy="1923" r="25"/><text x="1336" y="1921" class="f41" textLength="336" lengthAdjust="spacingAndGlyphs">guerci m. (2016)</text></g>
<g id="n-guerci19" class="ny"><circle cx="1557" cy="1982" r="15"/><text x="1586" y="1982" class="f35" textLength="286" lengthAdjust="spacingAndGlyphs">guerci m. (2019)</text></g>
<g id="n-camuffo" class="ny"><circle cx="1959" cy="2280" r="15"/><text x="1961" y="2278" class="f41" textLength="366" lengthAdjust="spacingAndGlyphs">camuffo a. (2017)</text></g>
<g id="n-milanesi" class="nr"><circle cx="268" cy="1302" r="15"/><text x="270" y="1302" class="f41" textLength="391" lengthAdjust="spacingAndGlyphs">milanesi m. (2020)</text></g>
<g id="n-wagner" class="nr"><circle cx="202" cy="1509" r="20"/><text x="200" y="1509" class="f41" textLength="364" lengthAdjust="spacingAndGlyphs">wagner m. (2011)</text></g>
<g id="n-ahuja" class="nr"><circle cx="325" cy="1600" r="15"/><text x="327" y="1598" class="f35" textLength="255" lengthAdjust="spacingAndGlyphs">ahuja j. (2019)</text></g>
<g id="n-gardas" class="nr"><circle cx="718" cy="1557" r="15"/><text x="716" y="1557" class="f41" textLength="380" lengthAdjust="spacingAndGlyphs">gardas b.b. (2019)</text></g>
<g id="n-amrutha" class="nr"><circle cx="602" cy="1700" r="30"/><text x="603" y="1696" class="f41" textLength="434" lengthAdjust="spacingAndGlyphs">amrutha v.n. (2020)</text></g>
<g id="n-aragao" class="nr"><circle cx="266" cy="1827" r="20"/><text x="260" y="1827" class="f41 fa" textLength="375" lengthAdjust="spacingAndGlyphs">aragão c.g. (2017)</text></g>
<g id="n-red-689" class="nr"><circle cx="689" cy="1864" r="25"/></g>
<g id="n-chams" class="nr"><circle cx="952" cy="1916" r="32"/><text x="953" y="1914" class="f41" textLength="345" lengthAdjust="spacingAndGlyphs">chams n. (2019)</text></g>
<g id="n-zhang" class="nr"><circle cx="1132" cy="1780" r="12"/><text x="1132" y="1780" class="f35" textLength="264" lengthAdjust="spacingAndGlyphs">zhang l. (2019)</text></g>
<g id="n-red-493" class="nr"><circle cx="493" cy="2003" r="17"/></g>
<g id="n-chaudhary" class="nr"><circle cx="618" cy="2020" r="11"/><text x="618" y="2023" class="f35" textLength="364" lengthAdjust="spacingAndGlyphs">chaudhary r. (2018)</text></g>
<g id="n-red-555" class="nr"><circle cx="555" cy="2139" r="16"/></g>
<g id="n-piwowar" class="nr"><circle cx="796" cy="2110" r="12"/><text x="794" y="2109" class="f35" textLength="416" lengthAdjust="spacingAndGlyphs">piwowar-sulej k. (2021)</text></g>
</g>
</svg>
